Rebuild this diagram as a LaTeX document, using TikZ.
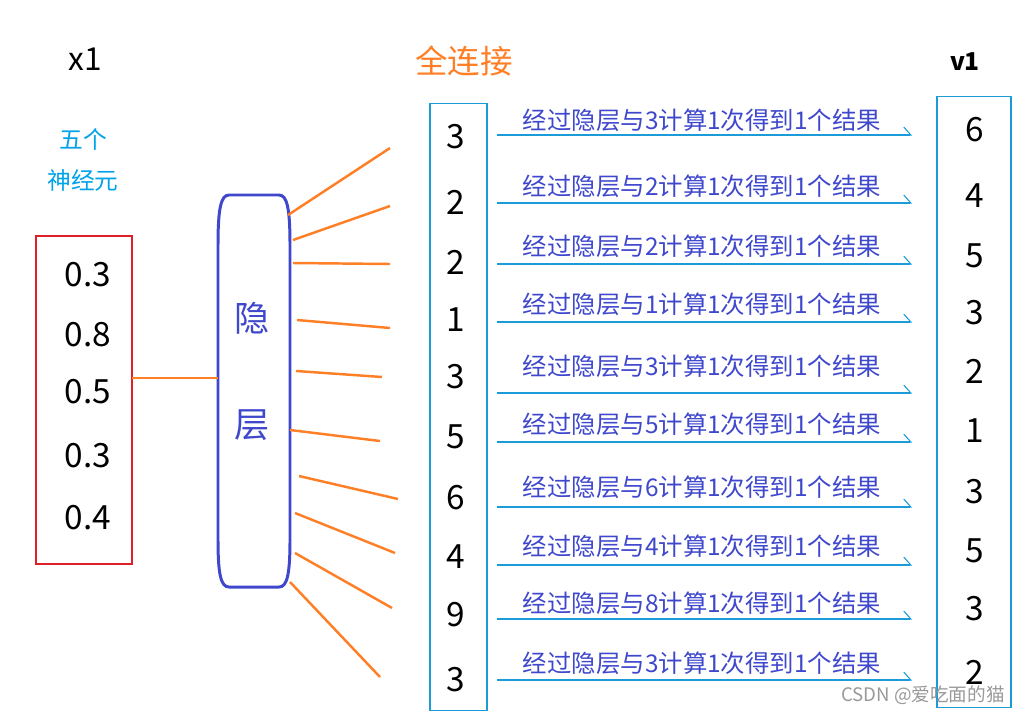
\documentclass[tikz,border=0pt]{standalone}
\usepackage{fontspec}
\setmainfont{Noto Sans CJK SC}
\usetikzlibrary{arrows.meta}

\definecolor{fcorange}{HTML}{FF7F27}
\definecolor{hidblue}{HTML}{3F48CC}
\definecolor{lineblue}{HTML}{1B9BD8}
\definecolor{txtcyan}{HTML}{00A2E8}
\definecolor{boxred}{HTML}{E02027}

\tikzset{
  fcline/.style={draw=fcorange, line width=1.4pt},
  colbox/.style={draw=lineblue, line width=0.6pt, inner sep=0pt},
  rowarrow/.style={draw=lineblue, line width=0.6pt,
    -{Straight Barb[left,length=4pt,width=9pt]}},
  numtxt/.style={font=\fontsize{19}{22}\selectfont},
  rowtxt/.style={text=hidblue, font=\fontsize{13.9}{16}\selectfont}
}

\begin{document}
\begin{tikzpicture}[x=0.02cm,y=-0.02cm]
  \useasboundingbox (0,0) rectangle (1024,714);

  % Eingabe
  \node (xname) at (85,59) {\fontsize{18}{21}\selectfont x1};
  \node[text=txtcyan, align=center, font=\fontsize{13.5}{23}\selectfont]
    (wuge) at (83,160) {五个\\神经元};
  \node[draw=boxred, line width=1.4pt, minimum width=1.92cm,
    minimum height=6.56cm] (neurons) at (84,400) {};
  \foreach \v/\y [count=\i] in {0.3/275, 0.8/335, 0.5/392, 0.3/456, 0.4/518}
    \node[numtxt] (x\i) at (88,\y) {\v};

  % Verborgene Schicht
  \draw[draw=hidblue, line width=1.7pt]
    (218,391) -- (218,245) .. controls (218,208) and (221,195) .. (229,195)
    -- (279,195) .. controls (287,195) and (290,208) .. (290,245)
    -- (290,540) .. controls (290,575) and (287,587) .. (279,587)
    -- (229,587) .. controls (221,587) and (218,575) .. (218,540) -- cycle;
  \coordinate (hidin) at (218,378);
  \node[text=hidblue, font=\fontsize{20}{24}\selectfont] (hid1) at (252,318) {隐};
  \node[text=hidblue, font=\fontsize{20}{24}\selectfont] (hid2) at (252,425) {层};
  \coordinate (inpt) at (132,378);
  \draw[fcline] (inpt) -- (hidin);

  % Vollverbindung
  \node[text=fcorange, font=\fontsize{18.5}{22}\selectfont] (fc) at (464,61) {全连接};
  \foreach \a/\b/\c/\d [count=\i] in {288/215/390/148, 293/240/390/206,
      293/263/390/264, 297/320/390/328, 296/371/382/377, 290/430/380/441,
      299/476/398/499, 295/513/395/553, 295/553/392/608, 290/582/380/677}
  {
    \coordinate (h\i) at (\a,\b);
    \coordinate (c\i) at (\c,\d);
    \draw[fcline] (h\i) -- (c\i);
  }

  % Spalten
  \node[colbox, minimum width=1.14cm, minimum height=12.16cm] (left) at (458.5,407) {};
  \node[colbox, minimum width=1.48cm, minimum height=12.24cm] (right) at (974,402) {};
  \node[font=\bfseries\fontsize{14}{17}\selectfont] (vname) at (965,62) {v1};

  \foreach \l/\m/\r/\ly/\ry/\ty/\ay [count=\i] in {
      3/3/6/137/130/120/135, 2/2/4/202/196/186/203, 2/2/5/262/256/246/264,
      1/1/3/320/313/304/322, 3/3/2/377/371/366/393, 5/5/1/437/431/424/442,
      6/6/3/498/492/487/507, 4/4/5/557/551/546/565, 9/8/3/615/609/603/619,
      3/3/2/680/672/663/680}
  {
    \node[numtxt] (l\i) at (456,\ly) {\l};
    \node[numtxt] (r\i) at (975,\ry) {\r};
    \coordinate (a\i) at (497,\ay);
    \coordinate (b\i) at (912,\ay);
    \draw[rowarrow] (a\i) -- (b\i);
    \node[rowtxt] (t\i) at (702,\ty) {经过隐层与\m 计算1次得到1个结果};
  }

  % Wasserzeichen
  \node[text=black!40, font=\fontsize{10.6}{12}\selectfont] (mark) at (923,695) {CSDN @爱吃面的猫};
\end{tikzpicture}
\end{document}
